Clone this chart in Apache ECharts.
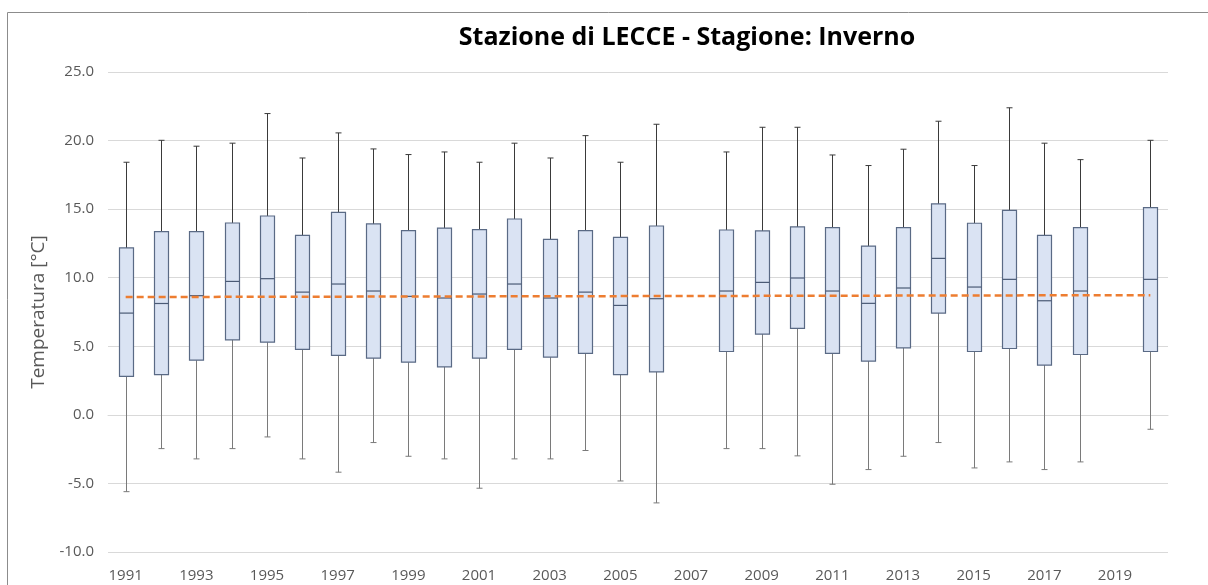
<!DOCTYPE html>
<html><head><meta charset="utf-8">
<script src="https://cdn.jsdelivr.net/npm/echarts@6/dist/echarts.min.js"></script>
<style>html,body{margin:0;padding:0;background:#fff}#c{width:1208px;height:585px}</style>
</head><body><div id="c"></div>
<script>
const years = ['1991','1992','1993','1994','1995','1996','1997','1998','1999','2000','2001','2002','2003','2004','2005','2006','2007','2008','2009','2010','2011','2012','2013','2014','2015','2016','2017','2018','2019','2020'];
const minV  = [-5.6,-2.46,-3.21,-2.46,-1.61,-3.21,-4.18,-2.02,-3.02,-3.21,-5.35,-3.21,-3.21,-2.60,-4.82,-6.42,null,-2.46,-2.46,-2.99,-5.06,-3.99,-3.02,-2.02,-3.87,-3.43,-3.99,-3.43,null,-1.05];
const q1V   = [2.80,2.94,3.99,5.47,5.30,4.77,4.33,4.14,3.84,3.50,4.14,4.77,4.21,4.48,2.94,3.14,null,4.62,5.89,6.30,4.48,3.92,4.89,7.42,4.62,4.84,3.63,4.40,null,4.62];
const medV  = [7.42,8.12,8.69,9.73,9.93,8.95,9.54,9.03,8.64,8.52,8.81,9.54,8.52,8.95,7.98,8.47,null,9.03,9.66,9.98,9.03,8.13,9.25,11.41,9.32,9.88,8.32,9.03,null,9.88];
const q3V   = [12.17,13.36,13.36,13.99,14.50,13.09,14.77,13.92,13.43,13.62,13.50,14.28,12.80,13.43,12.94,13.77,null,13.48,13.41,13.70,13.65,12.31,13.65,15.38,13.97,14.91,13.09,13.65,null,15.11];
const maxV  = [18.42,20.02,19.59,19.81,21.97,18.73,20.56,19.39,18.98,19.17,18.42,19.81,18.73,20.36,18.42,21.19,null,19.17,20.97,20.97,18.95,18.18,19.37,21.41,18.18,22.39,19.81,18.61,null,20.02];
const trendStart = 8.59, trendEnd = 8.73;
const yTicks = [-10,25,5];

const boxData = years.map((y,i)=> minV[i]==null ? [i,null,null,null,null,null] : [i,minV[i],q1V[i],medV[i],q3V[i],maxV[i]]);
const trendData = years.map((y,i)=> i===0 ? trendStart : (i===years.length-1 ? trendEnd : null));

const chart = echarts.init(document.getElementById('c'));
const boxW = 14, capW = 6;
chart.setOption({
  animation:false,
  title:{text:'Stazione di LECCE - Stagione: Inverno',left:682,top:20,textAlign:'center',
    textStyle:{fontFamily:'Open Sans',fontWeight:'bold',fontSize:25,color:'#000'}},
  graphic:[{type:'rect',shape:{x:7.5,y:12.5,width:1210,height:600},style:{fill:'none',stroke:'#8c8c8c',lineWidth:1},silent:true}],
  grid:{left:108,right:40,top:72,bottom:33,containLabel:false},
  xAxis:{type:'category',data:years,boundaryGap:true,
    axisLine:{show:true,lineStyle:{color:'#d9d9d9'}},axisTick:{show:false},
    axisLabel:{interval:1,color:'#595959',fontFamily:'Open Sans',fontSize:15,margin:16}},
  yAxis:{type:'value',min:yTicks[0],max:yTicks[1],interval:yTicks[2],
    name:'Temperatura [°C]',nameLocation:'middle',nameGap:60,nameRotate:90,
    nameTextStyle:{color:'#595959',fontFamily:'Open Sans',fontSize:19},
    axisLine:{show:false},axisTick:{show:false},
    axisLabel:{color:'#595959',fontFamily:'Open Sans',fontSize:15,margin:14,formatter:v=>v.toFixed(1)},
    splitLine:{lineStyle:{color:'#d9d9d9',width:1}}},
  series:[
    {type:'custom',data:boxData,encode:{x:0,y:[1,2,3,4,5]},
      renderItem:function(params,api){
        if(api.value(1)==null||isNaN(api.value(1))) return;
        const x = api.value(0);
        const pMin=api.coord([x,api.value(1)]), pQ1=api.coord([x,api.value(2)]), pMed=api.coord([x,api.value(3)]), pQ3=api.coord([x,api.value(4)]), pMax=api.coord([x,api.value(5)]);
        const cx = Math.round(pMin[0])+0.5;
        const wl = {stroke:'#7a7a7a',lineWidth:1};
        const wh = {stroke:'#3a3a3a',lineWidth:1};
        return {type:'group',children:[
          {type:'line',shape:{x1:cx,y1:pQ1[1],x2:cx,y2:pMin[1]},style:wl},
          {type:'line',shape:{x1:cx-capW/2,y1:pMin[1],x2:cx+capW/2,y2:pMin[1]},style:wl},
          {type:'line',shape:{x1:cx,y1:pQ3[1],x2:cx,y2:pMax[1]},style:wh},
          {type:'line',shape:{x1:cx-capW/2,y1:pMax[1],x2:cx+capW/2,y2:pMax[1]},style:wh},
          {type:'rect',shape:{x:cx-boxW/2,y:pQ3[1],width:boxW,height:pQ1[1]-pQ3[1]},style:{fill:'#dae3f3',stroke:'#5a6a85',lineWidth:1.2}},
          {type:'line',shape:{x1:cx-boxW/2,y1:pMed[1],x2:cx+boxW/2,y2:pMed[1]},style:{stroke:'#4a5a75',lineWidth:1.2}}
        ]};
      },z:2},
    {type:'line',data:trendData,connectNulls:true,symbol:'none',
      lineStyle:{color:'#ed7d31',width:2.5,type:[7,4]},z:3}
  ]
});
</script></body></html>
